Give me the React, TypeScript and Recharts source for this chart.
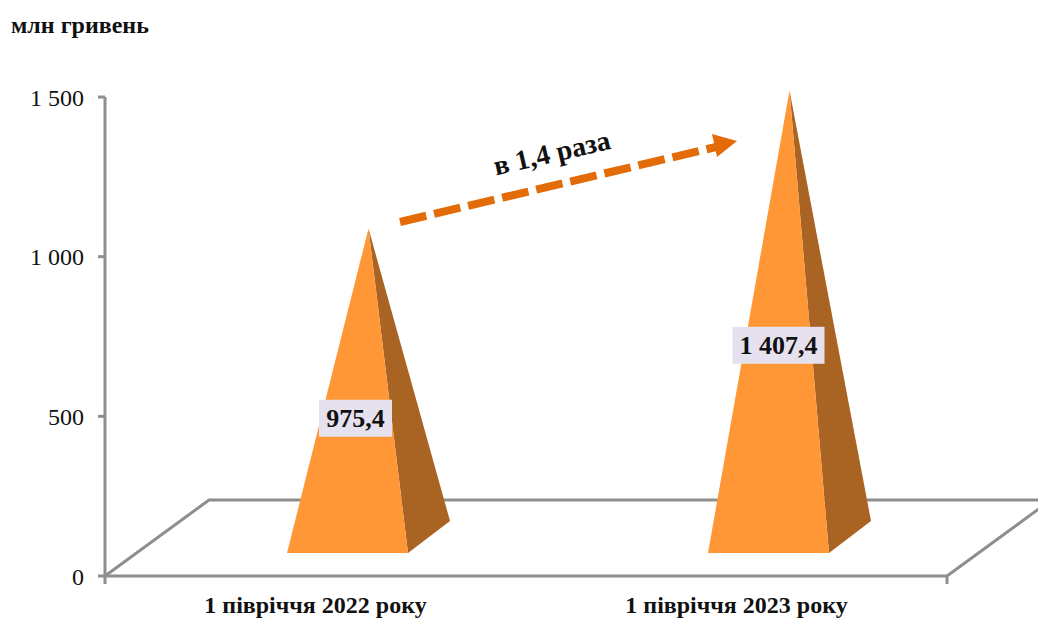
import { BarChart, Bar, XAxis, YAxis, LabelList } from 'recharts'

const categories = ['1 півріччя 2022 року', '1 півріччя 2023 року']
const values = [975.4, 1407.4]
const valueLabels = ['975,4', '1 407,4']
const yTicks = [0, 500, 1000, 1500]
const yTickLabels = ['0', '500', '1 000', '1 500']

const data = categories.map((name, i) => ({ name, value: values[i], label: valueLabels[i] }))

const serif = '"Liberation Serif", "Times New Roman", serif'
const axisColor = '#8e8e8e'

// the pyramid stands further back on the floor than the flat bar would
function Pyramid({ x, y, width, height }: any) {
  const left = x + 32
  const right = left + width
  const baseY = y + height - 23
  const backX = right + 42
  const backY = baseY - 32
  const apexX = (left + backX) / 2
  const apexY = y - 36
  return (
    <g>
      <polygon points={`${right},${baseY} ${backX},${backY} ${apexX},${apexY}`} fill="#A96322" />
      <polygon points={`${left},${baseY} ${right},${baseY} ${apexX},${apexY}`} fill="#FF9737" />
    </g>
  )
}

function ValueLabel({ x, y, width, height, index }: any) {
  const text = valueLabels[index]
  const boxW = index === 0 ? 73 : 92
  const cx = x + width / 2 + (index === 0 ? 40 : 42)
  const cy = y + height / 2 + (index === 0 ? -2 : -6)
  return (
    <g>
      <rect x={cx - boxW / 2} y={cy - 18.5} width={boxW} height={37} fill="#E6E1EE" />
      <text x={cx} y={cy + 9} textAnchor="middle" fontFamily={serif} fontWeight="bold" fontSize={26} fill="#111">
        {text}
      </text>
    </g>
  )
}

export default function App() {
  return (
    <div style={{ position: 'absolute', left: 0, top: 0, width: 1038, height: 619, background: '#fff' }}>
      <BarChart
        width={1038}
        height={619}
        data={data}
        margin={{ top: 97, right: 91, bottom: 0, left: 0 }}
      >
        {/* floor of the 3d chart */}
        <g fill="none" stroke={axisColor} strokeWidth={3}>
          <polyline points="105,576 209,500 1051,500 947,576" />
          <line x1={947} y1={576} x2={947} y2={584} />
          <line x1={105} y1={576} x2={105} y2={584} />
        </g>
        <XAxis
          dataKey="name"
          height={43}
          tickLine={false}
          axisLine={{ stroke: axisColor, strokeWidth: 3 }}
          tickMargin={14}
          tick={{ fontFamily: serif, fontWeight: 'bold', fontSize: 24, fill: '#111' }}
        />
        <YAxis
          width={105}
          domain={[0, 1500]}
          ticks={yTicks}
          interval={0}
          tickSize={7}
          tickMargin={14}
          tickFormatter={(v: number) => yTickLabels[yTicks.indexOf(v)]}
          axisLine={{ stroke: axisColor, strokeWidth: 3 }}
          tickLine={{ stroke: axisColor, strokeWidth: 3 }}
          tick={{ fontFamily: serif, fontSize: 24, fill: '#111' }}
        />
        <Bar dataKey="value" barSize={121} shape={<Pyramid />} isAnimationActive={false}>
          <LabelList dataKey="label" content={<ValueLabel />} />
        </Bar>
        <text x={11} y={33} fontFamily={serif} fontWeight="bold" fontSize={24} fill="#111">
          млн гривень
        </text>
        {/* growth arrow */}
        <line x1={400} y1={222} x2={716} y2={147} stroke="#E36C09" strokeWidth={8} strokeDasharray="27 8" />
        <polygon points="737,141 712,134 717,157" fill="#E36C09" />
        <text
          x={554}
          y={162}
          textAnchor="middle"
          transform="rotate(-13 554 162)"
          fontFamily={serif}
          fontWeight="bold"
          fontSize={28}
          fill="#111"
        >
          в 1,4 раза
        </text>
      </BarChart>
    </div>
  )
}
